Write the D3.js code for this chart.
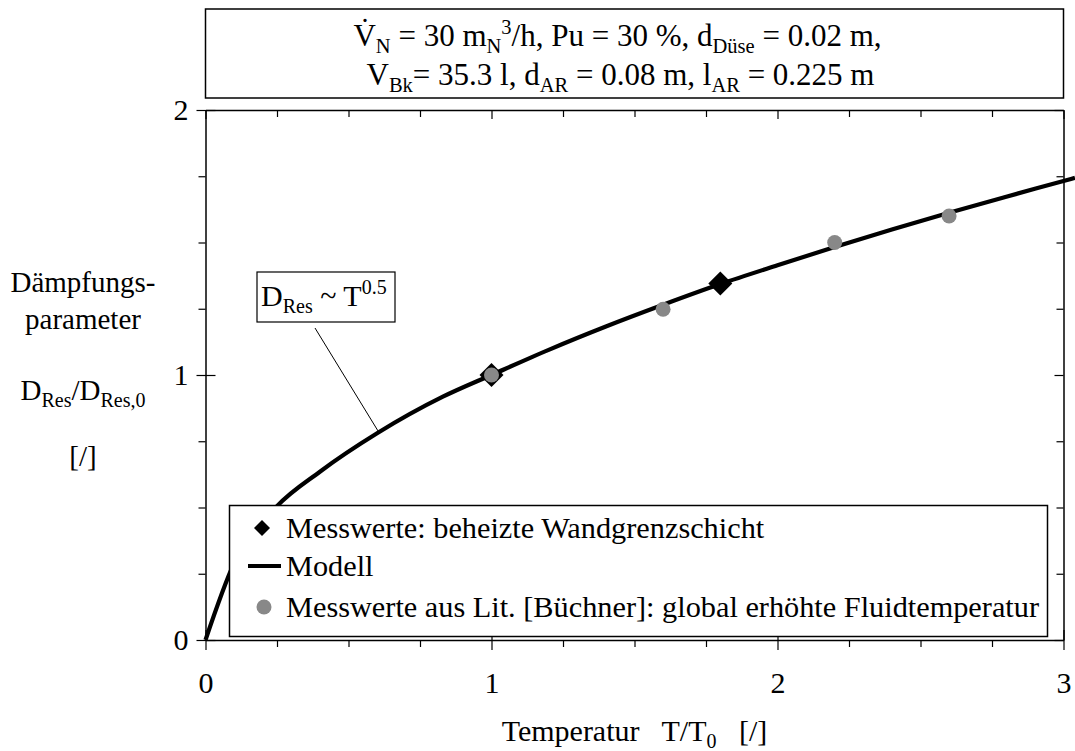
<!DOCTYPE html>
<html>
<head>
<meta charset="utf-8">
<script src="https://cdn.jsdelivr.net/npm/d3@7"></script>
<style>
  html, body { margin: 0; padding: 0; background: #fff; }
  svg text { fill: #000; }
</style>
</head>
<body>
<svg id="chart" width="1075" height="751"></svg>
<script>
// ---------- data ----------
const modelT = [0, 0.1, 0.25, 0.4, 0.6, 0.83, 1.0, 1.2, 1.4, 1.6, 1.8, 2.0, 2.2, 2.4, 2.6, 2.8, 3.0, 3.04];
const modelD = [0, 0.29, 0.505, 0.635, 0.78, 0.918, 1.0, 1.095, 1.183, 1.265, 1.343, 1.414, 1.483, 1.549, 1.612, 1.673, 1.732, 1.744];

const heatedT = [1.0, 1.8];
const heatedD = [1.0, 1.345];

const litT = [1.0, 1.6, 2.2, 2.6];
const litD = [1.0, 1.248, 1.5, 1.6];

const xTickValues = [0, 0.25, 0.5, 0.75, 1, 1.25, 1.5, 1.75, 2, 2.25, 2.5, 2.75, 3];
const yTickValues = [0, 0.25, 0.5, 0.75, 1, 1.25, 1.5, 1.75, 2];
const xMajor = [0, 1, 2, 3];
const yMajor = [0, 1, 2];

const legendLabels = [
  "Messwerte: beheizte Wandgrenzschicht",
  "Modell",
  "Messwerte aus Lit. [Büchner]: global erhöhte Fluidtemperatur"
];

// ---------- setup ----------
const FONT = "'Liberation Serif', 'Times New Roman', Times, serif";
const svg = d3.select("#chart");
const FS = 30, SUB = 20;
const x = d3.scaleLinear().domain([0, 3]).range([205.5, 1063.5]);
const y = d3.scaleLinear().domain([0, 2]).range([640, 110]);
const gray = "#888888";

function richText(parent, px, py, parts, anchor, size, subSize) {
  const fs = size || FS;
  const ss = subSize || SUB;
  const t = parent.append("text")
    .attr("x", px).attr("y", py)
    .attr("text-anchor", anchor || "start")
    .attr("font-family", FONT)
    .attr("font-size", fs)
    .style("white-space", "pre");
  let cur = 0;
  parts.forEach(p => {
    const mode = p[1] || "";
    const target = mode === "sub" ? 7 : mode === "sup" ? -12 : 0;
    t.append("tspan")
      .attr("dy", target - cur)
      .attr("font-size", mode ? ss : fs)
      .text(p[0]);
    cur = target;
  });
  return t;
}

// ---------- top parameter box ----------
svg.append("rect")
  .attr("x", x(0)).attr("y", 9)
  .attr("width", x(3) - x(0)).attr("height", 89)
  .attr("fill", "#fff").attr("stroke", "#000").attr("stroke-width", 1.5);

richText(svg, 617.5, 46, [
  ["V\u0307"], ["N", "sub"], [" = 30 m"], ["N", "sub"], ["3", "sup"], ["/h, Pu = 30 %, d"], ["Düse", "sub"], [" = 0.02 m,"]
], "middle", 31, 20.5);
richText(svg, 620.5, 85, [
  ["V"], ["Bk", "sub"], ["= 35.3 l, d"], ["AR", "sub"], [" = 0.08 m, l"], ["AR", "sub"], [" = 0.225 m"]
], "middle", 31, 20.5);

// ---------- axes ----------
function styleAxis(g) {
  g.attr("font-family", FONT).attr("font-size", FS);
  g.selectAll(".domain").attr("stroke", "#000").attr("stroke-width", 1.5);
  g.selectAll(".tick line").attr("stroke", "#000").attr("stroke-width", 1.2);
  g.selectAll(".tick text").attr("font-family", FONT).attr("font-size", FS).attr("fill", "#000");
}

const gBottom = svg.append("g").attr("transform", `translate(0,${y(0)})`)
  .call(d3.axisBottom(x).tickValues(xTickValues).tickSize(7).tickSizeOuter(0).tickPadding(25)
    .tickFormat(d => xMajor.includes(d) ? d3.format("d")(d) : ""));
gBottom.selectAll(".tick").filter(d => xMajor.includes(d)).select("line").attr("y1", -10).attr("y2", 10);
styleAxis(gBottom);

const gLeft = svg.append("g").attr("transform", `translate(${x(0)},0)`)
  .call(d3.axisLeft(y).tickValues(yTickValues).tickSize(7).tickSizeOuter(0).tickPadding(10)
    .tickFormat(d => yMajor.includes(d) ? d3.format("d")(d) : ""));
gLeft.selectAll(".tick").filter(d => yMajor.includes(d)).select("line").attr("x1", 10).attr("x2", -9);
styleAxis(gLeft);

const gTop = svg.append("g").attr("transform", `translate(0,${y(2)})`)
  .call(d3.axisTop(x).tickValues(xTickValues).tickSize(-7).tickSizeOuter(0).tickFormat(""));
gTop.selectAll(".tick").filter(d => xMajor.includes(d)).select("line").attr("y2", 9);
styleAxis(gTop);

const gRight = svg.append("g").attr("transform", `translate(${x(3)},0)`)
  .call(d3.axisRight(y).tickValues(yTickValues).tickSize(-7).tickSizeOuter(0).tickFormat(""));
gRight.selectAll(".tick").filter(d => yMajor.includes(d)).select("line").attr("x2", -9);
styleAxis(gRight);

// ---------- axis titles ----------
richText(svg, 634.5, 741, [["Temperatur   T/T"], ["0", "sub"], ["   [/]"]], "middle");

const yl = svg.append("g");
richText(yl, 83, 292, [["Dämpfungs-"]], "middle", 29);
richText(yl, 83, 329, [["parameter"]], "middle", 29);
richText(yl, 83, 400, [["D"], ["Res", "sub"], ["/D"], ["Res,0", "sub"]], "middle", 29);
richText(yl, 83, 466, [["[/]"]], "middle", 29);

// ---------- model curve ----------
const modelData = modelT.map((t, i) => ({ t, d: modelD[i] }));
svg.append("path")
  .datum(modelData)
  .attr("fill", "none").attr("stroke", "#000").attr("stroke-width", 4.2)
  .attr("stroke-linejoin", "round")
  .attr("d", d3.line().x(p => x(p.t)).y(p => y(p.d)).curve(d3.curveMonotoneX));

// ---------- markers ----------
function diamondPath(r) {
  return `M0,${-r}L${r},0L0,${r}L${-r},0Z`;
}
svg.append("g").selectAll("path")
  .data(heatedT.map((t, i) => ({ t, d: heatedD[i] })))
  .join("path")
  .attr("transform", p => `translate(${x(p.t)},${y(p.d)})`)
  .attr("d", diamondPath(12))
  .attr("fill", "#000");

svg.append("g").selectAll("circle")
  .data(litT.map((t, i) => ({ t, d: litD[i] })))
  .join("circle")
  .attr("cx", p => x(p.t)).attr("cy", p => y(p.d))
  .attr("r", 7.5)
  .attr("fill", gray);

// ---------- annotation ----------
svg.append("line")
  .attr("x1", 315).attr("y1", 328).attr("x2", x(0.604)).attr("y2", y(0.78) - 2)
  .attr("stroke", "#000").attr("stroke-width", 1);
svg.append("rect")
  .attr("x", 257).attr("y", 272).attr("width", 138).attr("height", 50)
  .attr("fill", "#fff").attr("stroke", "#000").attr("stroke-width", 1.2);
richText(svg, 261, 306, [["D"], ["Res", "sub"], [" ~ T"], ["0.5", "sup"]], "start");

// ---------- legend ----------
const lg = svg.append("g");
lg.append("rect")
  .attr("x", 229.5).attr("y", 505.5).attr("width", 818).attr("height", 131)
  .attr("fill", "#fff").attr("stroke", "#000").attr("stroke-width", 1.5);
const rowY = [528, 566, 607];
lg.append("path").attr("transform", `translate(262,${rowY[0]})`).attr("d", diamondPath(8)).attr("fill", "#000");
lg.append("line").attr("x1", 248).attr("x2", 281).attr("y1", rowY[1]).attr("y2", rowY[1])
  .attr("stroke", "#000").attr("stroke-width", 4);
lg.append("circle").attr("cx", 264).attr("cy", rowY[2]).attr("r", 7.5).attr("fill", gray);
legendLabels.forEach((s, i) => {
  richText(lg, 286, rowY[i] + 10, [[s]], "start", 30.3);
});
</script>
</body>
</html>
